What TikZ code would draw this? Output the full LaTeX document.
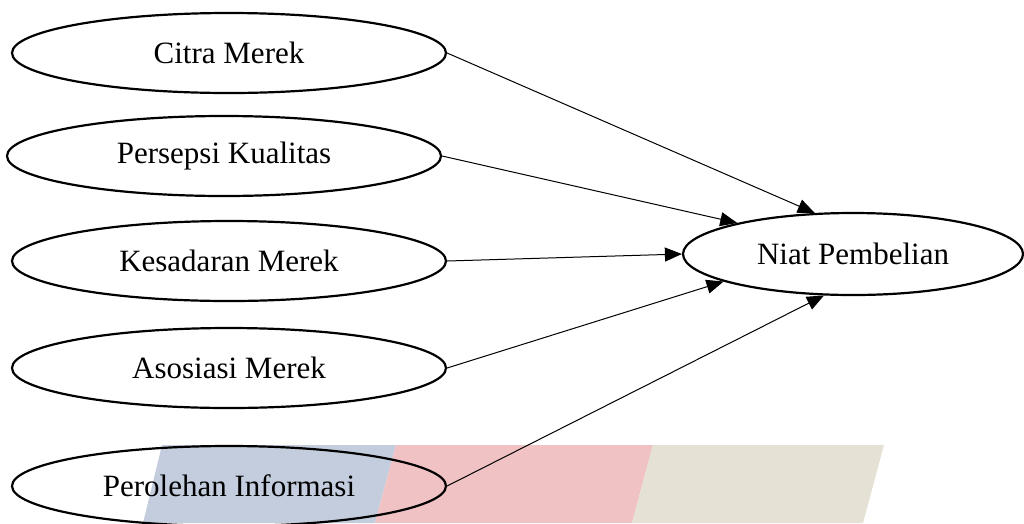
\documentclass[tikz,border=0pt]{standalone}
\usepackage{fontspec}
\setmainfont{Liberation Serif}
\usetikzlibrary{shapes.geometric,arrows.meta}
\definecolor{wmblue}{RGB}{196,205,222}
\definecolor{wmred}{RGB}{240,194,196}
\definecolor{wmbeige}{RGB}{229,225,213}
\tikzset{
  var/.style={ellipse, draw=black, line width=2.2pt, inner sep=0pt,
    minimum width=434pt, minimum height=80pt, font=\fontsize{31}{35}\selectfont},
  link/.style={line width=1pt, -{Triangle[length=17pt,width=14pt]}},
}
\begin{document}
\begin{tikzpicture}[x=1pt,y=-1pt]
\useasboundingbox (0,0) rectangle (1024,523);
\clip (0,0) rectangle (1024,523);
% watermark bands
\fill[wmblue] (162,445) -- (396,445) -- (375,523) -- (143,523) -- cycle;
\fill[wmred] (396,445) -- (653,445) -- (632,523) -- (375,523) -- cycle;
\fill[wmbeige] (653,445) -- (884,445) -- (863,523) -- (632,523) -- cycle;
% nodes
\node[var] (cm) at (229,53) {Citra Merek};
\node[var] (pk) at (224,156) {Persepsi Kualitas};
\node[var] (km) at (229,261) {Kesadaran Merek};
\node[var] (am) at (229,368) {Asosiasi Merek};
\node[var] (pi) at (229,486) {Perolehan Informasi};
\node[var, minimum width=340pt, minimum height=82pt] (np) at (853,254) {Niat Pembelian};
% connectors
\draw[link] (cm.east) -- (np.133);
\draw[link] (pk.east) -- (np.165);
\draw[link] (km.east) -- (np.west);
\draw[link] (am.east) -- (np.192);
\draw[link] (pi.east) -- (np.235);
\end{tikzpicture}
\end{document}
